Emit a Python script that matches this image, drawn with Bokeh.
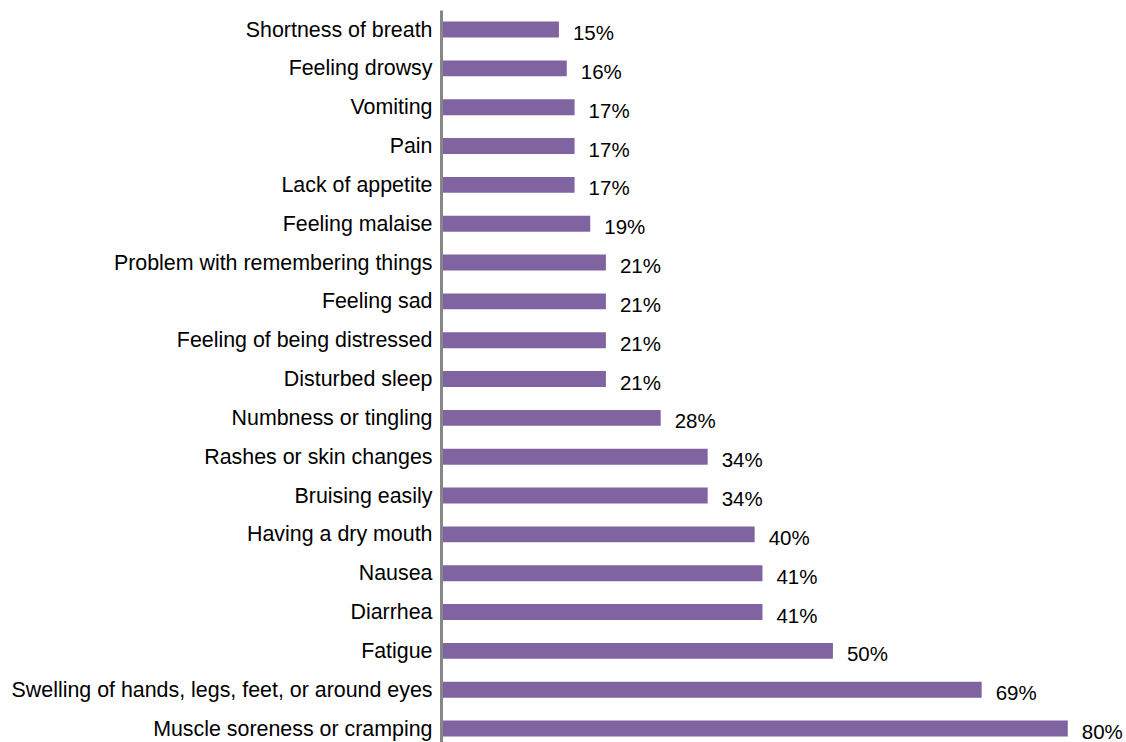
from bokeh.plotting import figure
from bokeh.models import ColumnDataSource, Range1d, FixedTicker
from bokeh.core.properties import value
from bokeh.embed import file_html
from bokeh.resources import INLINE

categories = [
    "Shortness of breath", "Feeling drowsy", "Vomiting", "Pain", "Lack of appetite",
    "Feeling malaise", "Problem with remembering things", "Feeling sad",
    "Feeling of being distressed", "Disturbed sleep", "Numbness or tingling",
    "Rashes or skin changes", "Bruising easily", "Having a dry mouth", "Nausea",
    "Diarrhea", "Fatigue", "Swelling of hands, legs, feet, or around eyes",
    "Muscle soreness or cramping",
]
values = [15, 16, 17, 17, 17, 19, 21, 21, 21, 21, 28, 34, 34, 40, 41, 41, 50, 69, 80]

n = len(categories)
ys = [n - 1 - i for i in range(n)]
labels = [f"{v}%" for v in values]

src = ColumnDataSource(dict(cat=categories, val=values, y=ys, lab=labels))

FONT = "Liberation Sans"

p = figure(width=1126, height=742, output_backend="svg", toolbar_location=None,
           x_range=Range1d(0, 87.5), y_range=Range1d(-0.36, 18.747),
           x_axis_location=None, min_border_left=441, min_border_right=0,
           min_border_top=0, min_border_bottom=0)
p.outline_line_color = None
p.xgrid.visible = False
p.ygrid.visible = False
p.background_fill_color = "white"
p.border_fill_color = "white"

p.hbar(y="y", left=0, right="val", height=0.41, source=src,
       fill_color="#8064A2", line_color=None)

p.text(x="val", y="y", text="lab", source=src, x_offset=14, y_offset=3,
       text_baseline="middle", text_align="left", text_color="#000000",
       text_font=value(FONT), text_font_size="20.5px")

ax = p.yaxis[0]
ax.ticker = FixedTicker(ticks=ys)
ax.major_label_overrides = {y: c for y, c in zip(ys, categories)}
ax.major_label_text_font = FONT
ax.major_label_text_font_size = "21.4px"
ax.major_label_text_color = "#000000"
ax.major_label_standoff = 9
ax.major_tick_out = 0
ax.major_tick_in = 0
ax.minor_tick_out = 0
ax.minor_tick_in = 0
ax.major_tick_line_color = None
ax.minor_tick_line_color = None
ax.axis_line_color = "#878787"
ax.axis_line_width = 3
ax.bounds = (-0.36, 18.49)

open("out.html", "w").write(file_html(p, INLINE))
